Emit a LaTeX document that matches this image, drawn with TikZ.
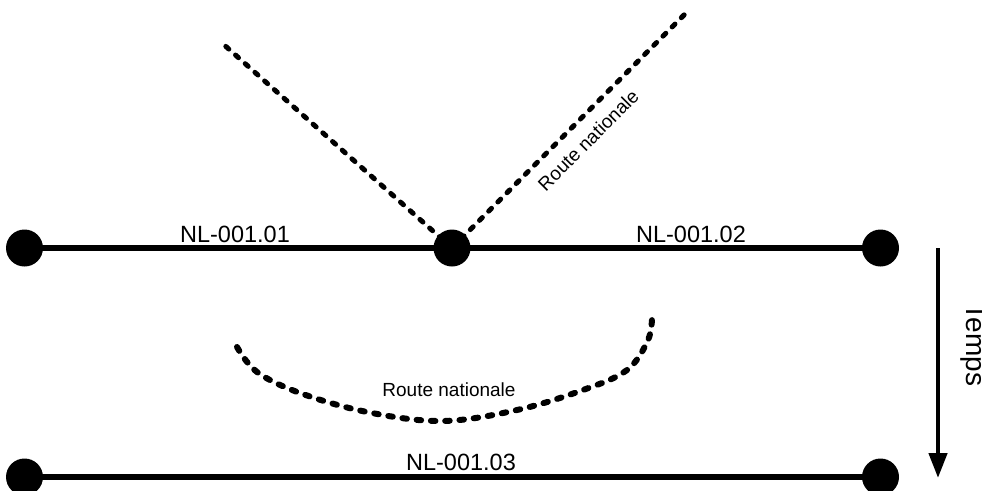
\documentclass[tikz,border=0pt]{standalone}
\usepackage{fontspec}
\setmainfont{Liberation Sans}
\usetikzlibrary{arrows.meta}
\begin{document}
\begin{tikzpicture}[x=1pt,y=-1pt,
  junction/.style={circle,fill=black,minimum size=37pt,inner sep=0pt},
  segment/.style={line width=6pt},
  road/.style={line width=5pt,line cap=round,dash pattern=on 4pt off 9pt},
  roadcurve/.style={line width=6pt,line cap=round,dash pattern=on 4.5pt off 9.8pt},
  seglabel/.style={font=\fontsize{23.5}{26}\selectfont,anchor=base,inner sep=0pt},
  roadlabel/.style={font=\fontsize{19}{22}\selectfont,anchor=base,inner sep=0pt},
  timeaxis/.style={line width=4.5pt,-{Triangle[length=25pt,width=18pt]}}]
\useasboundingbox (0,0) rectangle (982,490);

% junction positions
\coordinate (a) at (24.5,248);
\coordinate (b) at (452,248);
\coordinate (c) at (880.5,248);
\coordinate (d) at (24.5,477);
\coordinate (e) at (880.5,477);
\coordinate (lroad) at (222,43);
\coordinate (rroad) at (687,12);

% national road crossing at the middle junction
\draw[road] (b) -- (lroad);
\draw[road] (b) -- (rroad);

% upper segments
\draw[segment] (a) -- (b);
\draw[segment] (b) -- (c);
\node[junction] (na) at (a) {};
\node[junction] (nb) at (b) {};
\node[junction] (nc) at (c) {};
\node[seglabel] (l1) at (235,242) {NL-001.01};
\node[seglabel] (l2) at (691,242) {NL-001.02};
\node[roadlabel,rotate=45] (r1) at (593,145) {Route nationale};

% road after the change
\draw[roadcurve] plot[smooth,tension=0.6] coordinates {(237,347) (257,372) (300,393) (367,412) (442,421) (517,410) (583,390) (627,370) (648,340) (652,317)};
\node[roadlabel] (r2) at (449,396) {Route nationale};

% merged segment
\draw[segment] (d) -- (e);
\node[junction] (nd) at (d) {};
\node[junction] (ne) at (e) {};
\node[seglabel] (l3) at (461,470) {NL-001.03};

% time axis
\coordinate (t0) at (938,248);
\coordinate (t1) at (938,478);
\draw[timeaxis] (t0) -- (t1);
\node[font=\fontsize{28}{31}\selectfont,rotate=-90,anchor=base,inner sep=0pt] (temps) at (966,345) {Temps};
\end{tikzpicture}
\end{document}
